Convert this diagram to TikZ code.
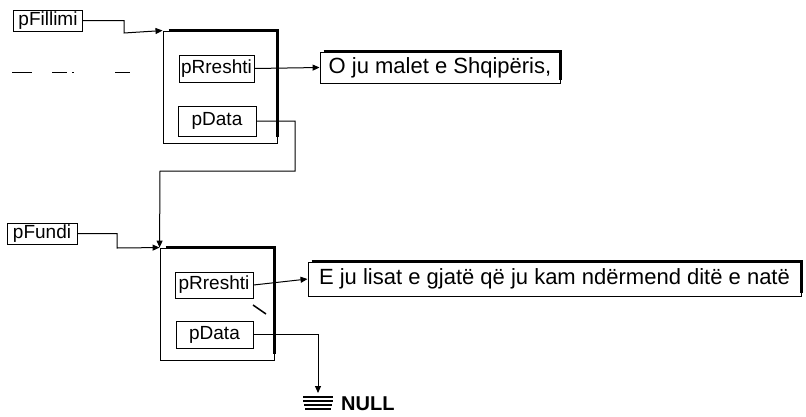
\documentclass[tikz,border=0pt]{standalone}
\usepackage{fontspec}
\setmainfont{Liberation Sans}
\usetikzlibrary{arrows.meta}
\begin{document}
\begin{tikzpicture}[x=1pt,y=-1pt,
  lbl/.style={draw, line width=0.9pt, inner sep=0pt, anchor=center, font=\fontsize{19}{22}\selectfont},
  cell/.style={draw, line width=0.9pt, inner sep=0pt, anchor=center},
  txtbox/.style={draw, line width=0.9pt, inner sep=0pt, anchor=center, font=\fontsize{22}{26}\selectfont},
  shadow/.style={line width=3pt},
  wire/.style={line width=1pt},
  arr/.style={line width=1pt, -{Triangle[length=7pt,width=6pt]}}]
\useasboundingbox (0,0) rectangle (806,416);
% first element
\node[lbl, minimum width=69pt, minimum height=21pt] (fil) at (48,20.5) {pFillimi};
\node[cell, minimum width=114pt, minimum height=112pt] (out1) at (220,87) {};
\draw[shadow] ([xshift=6pt]out1.north west) -- (out1.north east) -- ([yshift=6pt]out1.south east);
\node[lbl, minimum width=75pt, minimum height=27pt] (rr1) at (216.5,68.5) {pRreshti};
\node[lbl, minimum width=78pt, minimum height=30pt] (pd1) at (217,121) {pData};
\node[txtbox, minimum width=240pt, minimum height=31pt] (tb1) at (440,67.5) {O ju malet e Shqipëris,};
\draw[shadow] ([xshift=4pt]tb1.north west) -- (tb1.north east) -- ([yshift=3pt]tb1.south east);
% left dashes
\draw[wire] (12,72) -- (32,72) (52,72) -- (67,72) (72,72) -- (74,72) (115,72) -- (130,72);
% second element
\node[lbl, minimum width=70pt, minimum height=21pt] (fun) at (42,233.5) {pFundi};
\node[cell, minimum width=114pt, minimum height=112pt] (out2) at (217,304) {};
\draw[shadow] ([xshift=6pt]out2.north west) -- (out2.north east) -- ([yshift=6pt]out2.south east);
\node[lbl, minimum width=78pt, minimum height=26pt] (rr2) at (214,285) {pRreshti};
\node[lbl, minimum width=77pt, minimum height=27pt] (pd2) at (214.5,334.5) {pData};
\node[txtbox, minimum width=493pt, minimum height=34pt] (tb2) at (554.5,279) {E ju lisat e gjatë që ju kam ndërmend ditë e natë};
\draw[shadow] ([xshift=4pt]tb2.north west) -- (tb2.north east) -- ([yshift=3pt]tb2.south east);
\draw[line width=1.5pt] (253,305) -- (266,314);
% connectors
\draw[arr] (fil.east) -- (124,20.5) -- (124,33) -- (out1.north west);
\draw[arr] (rr1.east) -- (tb1.west);
\draw[arr] (pd1.east) -- (295,121) -- (295,171) -- (160,171) -- (out2.north west);
\draw[arr] (fun.east) -- (117,233.5) -- (117,248) -- (out2.north west);
\draw[arr] (rr2.east) -- (tb2.west);
\coordinate (gnd) at (318,393);
\draw[arr] (pd2.east) -- (318,334.5) -- (gnd);
% ground symbol
\draw[line width=1.3pt] (303,397) -- (333,397) (303,401) -- (333,401) (304,405) -- (332,405) (305,409) -- (331,409);
\node[anchor=west, inner sep=0pt, font=\fontsize{20}{22}\selectfont\bfseries] (null) at (341,404) {NULL};
\end{tikzpicture}
\end{document}
